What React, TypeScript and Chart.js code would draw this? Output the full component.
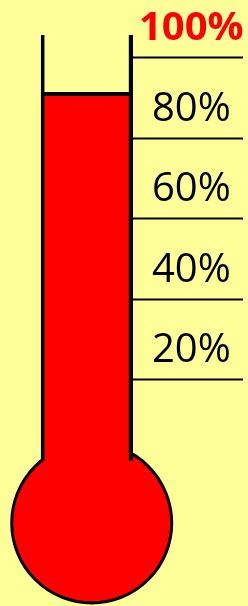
import React, { useEffect, useRef } from "react";
import { Chart, registerables } from "chart.js";

Chart.register(...registerables);

// ---- data ----
const CATEGORY_X = [0];
const PROGRESS = [91.5];
const TUBE_TOP = [105.7];
const BULB_X = [0.05];
const BULB_Y = [-15.5];
const BULB_R = [80];
const TICK_VALUES = [20, 40, 60, 80, 100];
const TICK_LABELS = ["20%", "40%", "60%", "80%", "100%"];
const HIGHLIGHT_TICK = 100;

const BG = "#FFFF99";
const RED = "#FF0000";
const FONT = "'Open Sans', sans-serif";

export default function App() {
  const ref = useRef<HTMLCanvasElement | null>(null);

  useEffect(() => {
    document.body.style.margin = "0";
    const canvas = ref.current;
    if (!canvas) return;
    const chart = new Chart(canvas, {
      type: "bar",
      data: {
        datasets: [
          {
            type: "bar",
            label: "tube",
            data: CATEGORY_X.map((x, i) => ({ x, y: [0, TUBE_TOP[i]] })) as any,
            backgroundColor: "rgba(0,0,0,0)",
            borderColor: "#000",
            borderWidth: { top: 0, bottom: 0, left: 3, right: 4 } as any,
            borderSkipped: false,
            barThickness: 92,
            grouped: false,
            order: 0,
          } as any,
          {
            type: "bar",
            label: "progress",
            data: CATEGORY_X.map((x, i) => ({ x, y: PROGRESS[i] })) as any,
            backgroundColor: RED,
            borderColor: "#000",
            borderWidth: { top: 4, bottom: 0, left: 3, right: 4 } as any,
            borderSkipped: false,
            barThickness: 92,
            grouped: false,
            order: 1,
          } as any,
          {
            type: "bubble",
            label: "bulb",
            data: BULB_X.map((x, i) => ({ x, y: BULB_Y[i], r: BULB_R[i] })),
            backgroundColor: RED,
            borderColor: "#000",
            borderWidth: 3,
            clip: false,
            order: 2,
          } as any,
        ],
      },
      options: {
        animation: false,
        responsive: false,
        devicePixelRatio: 1,
        events: [],
        layout: { padding: 0, autoPadding: false },
        plugins: { legend: { display: false }, tooltip: { enabled: false } },
        scales: {
          x: { type: "linear", display: false, min: -0.95, max: 0.5, offset: false },
          y: {
            type: "linear",
            position: "right",
            min: -36.15,
            max: 114.41,
            border: { display: false },
            grid: {
              drawOnChartArea: false,
              drawTicks: true,
              tickLength: 110,
              tickWidth: 2,
              tickColor: "#000",
            },
            afterBuildTicks: (scale: any) => {
              scale.ticks = TICK_VALUES.map((value) => ({ value }));
            },
            afterFit: (scale: any) => {
              scale.width = 115;
              scale.paddingTop = 0;
              scale.paddingBottom = 0;
            },
            ticks: {
              autoSkip: false,
              crossAlign: "center",
              padding: -104,
              labelOffset: -29,
              callback: (_v: any, i: number) => TICK_LABELS[i],
              color: (ctx: any) =>
                ctx.tick && ctx.tick.value === HIGHLIGHT_TICK ? RED : "#000",
              font: (ctx: any) =>
                ctx.tick && ctx.tick.value === HIGHLIGHT_TICK
                  ? { family: FONT, size: 40, weight: "bold" }
                  : { family: FONT, size: 40, weight: "normal" },
            },
          },
        },
      } as any,
    });
    return () => chart.destroy();
  }, []);

  return (
    <div style={{ width: 248, height: 606, background: BG }}>
      <canvas ref={ref} width={248} height={606} style={{ display: "block" }} />
    </div>
  );
}
